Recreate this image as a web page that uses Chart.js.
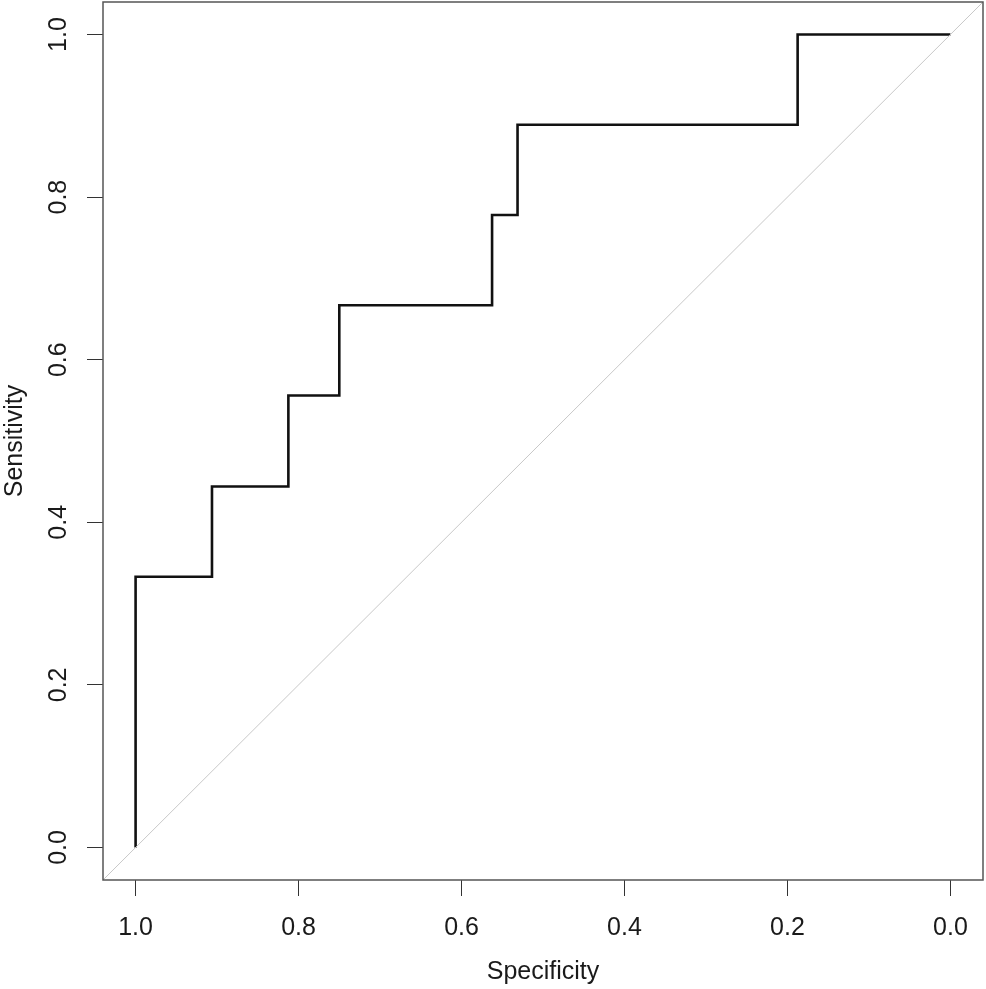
<!DOCTYPE html>
<html>
<head>
<meta charset="utf-8">
<script src="https://cdn.jsdelivr.net/npm/chart.js@4.4.1/dist/chart.umd.min.js"></script>
<style>
  body { margin: 0; background: #fff; }
  canvas { display: block; }
</style>
</head>
<body>
<canvas id="roc" width="986" height="989"></canvas>
<script>
// ROC curve points (specificity, sensitivity)
const specificity = [1, 1, 0.90625, 0.8125, 0.75, 0.5625, 0.53125, 0.1875, 0];
const sensitivity = [0, 0.333, 0.444, 0.556, 0.667, 0.778, 0.889, 1, 1];

// chance line, spans the whole plot box
const diagX = [1.04, -0.04];
const diagY = [-0.04, 1.04];

const tickVals = [0, 0.2, 0.4, 0.6, 0.8, 1.0];

const fontFam = "'Liberation Sans', Arial, sans-serif";

// R style box around the plot
const boxPlugin = {
  id: 'box',
  afterDraw(chart) {
    const { ctx, chartArea: a } = chart;
    ctx.save();
    ctx.strokeStyle = '#555';
    ctx.lineWidth = 1.5;
    ctx.strokeRect(a.left, a.top, a.right - a.left, a.bottom - a.top);
    ctx.restore();
  }
};

const ctx = document.getElementById('roc');

new Chart(ctx, {
  type: 'scatter',
  data: {
    datasets: [{
      label: 'diag',
      data: diagX.map((x, i) => ({ x: x, y: diagY[i] })),
      showLine: true,
      borderColor: '#c8c8c8',
      borderWidth: 1,
      pointRadius: 0
    }, {
      label: 'ROC',
      data: specificity.map((x, i) => ({ x: x, y: sensitivity[i] })),
      showLine: true,
      stepped: 'before',
      borderColor: '#111',
      borderWidth: 2.6,
      pointRadius: 0
    }]
  },
  options: {
    responsive: false,
    animation: false,
    layout: { padding: { top: 2, right: 3, left: 0, bottom: 0 } },
    plugins: {
      legend: { display: false },
      tooltip: { enabled: false }
    },
    scales: {
      x: {
        type: 'linear',
        reverse: true,
        min: -0.04,
        max: 1.04,
        afterBuildTicks: s => { s.ticks = tickVals.map(v => ({ value: v })); },
        afterFit: s => { s.height = 109; s.paddingLeft = 0; s.paddingRight = 0; },
        border: { display: false },
        grid: { drawOnChartArea: false, drawTicks: true, tickLength: 16, color: '#333', lineWidth: 1 },
        ticks: {
          autoSkip: false,
          maxRotation: 0,
          padding: 17,
          color: '#1a1a1a',
          font: { family: fontFam, size: 25 },
          callback: v => v.toFixed(1)
        },
        title: {
          display: true,
          text: 'Specificity',
          color: '#1a1a1a',
          font: { family: fontFam, size: 25 },
          padding: { top: 0, bottom: 2 }
        }
      },
      y: {
        type: 'linear',
        min: -0.04,
        max: 1.04,
        afterBuildTicks: s => { s.ticks = tickVals.map(v => ({ value: v })); },
        afterFit: s => { s.width = 103; s.paddingTop = 0; s.paddingBottom = 0; },
        border: { display: false },
        grid: { drawOnChartArea: false, drawTicks: true, tickLength: 16, color: '#333', lineWidth: 1 },
        ticks: {
          autoSkip: false,
          minRotation: 90,
          maxRotation: 90,
          crossAlign: 'center',
          padding: 11,
          color: '#1a1a1a',
          font: { family: fontFam, size: 25 },
          callback: v => v.toFixed(1)
        },
        title: {
          display: true,
          text: 'Sensitivity',
          color: '#1a1a1a',
          font: { family: fontFam, size: 25 },
          padding: { top: 0, bottom: 0 }
        }
      }
    }
  },
  plugins: [boxPlugin]
});
</script>
</body>
</html>
